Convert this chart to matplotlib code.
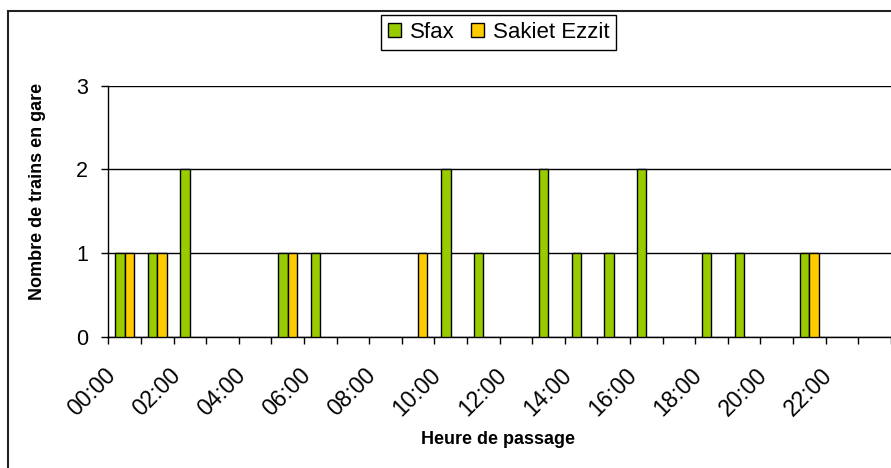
import numpy as np
import matplotlib
matplotlib.use("Agg")
import matplotlib.pyplot as plt
from matplotlib.patches import Rectangle
from matplotlib.transforms import ScaledTranslation

plt.rcParams['font.family'] = ['Liberation Sans', 'DejaVu Sans']

hours = [f"{h:02d}:00" for h in range(24)]
sfax = [1, 1, 2, 0, 0, 1, 1, 0, 0, 0, 2, 1, 0, 2, 1, 1, 2, 0, 1, 1, 0, 1, 0, 0]
sakiet = [1, 1, 0, 0, 0, 1, 0, 0, 0, 1, 0, 0, 0, 0, 0, 0, 0, 0, 0, 0, 0, 1, 0, 0]
yticks = [0, 1, 2, 3]

W, H = 891, 468
fig = plt.figure(figsize=(W / 100, H / 100), dpi=100)
ax = fig.add_axes([108.3 / W, 1 - 337 / H, (890.7 - 108.3) / W, (337 - 85.5) / H])

# chart area border
fig.patches.append(Rectangle((8 / W, -0.1), 1.2, 1.1 - 11 / H, transform=fig.transFigure,
                             fill=False, edgecolor='#222222', linewidth=1.5))

x = np.arange(len(hours))
w = 1 / 3.5
b1 = ax.bar(x - w / 2, sfax, w, color='#99CC00', edgecolor='black', linewidth=1, label='Sfax', zorder=3)
b2 = ax.bar(x + w / 2, sakiet, w, color='#FFCC00', edgecolor='black', linewidth=1, label='Sakiet Ezzit', zorder=3)
# empty slots are not drawn
for p in list(b1) + list(b2):
    if p.get_height() == 0:
        p.set_visible(False)

ax.set_xlim(-0.5, len(hours) - 0.5)
ax.set_ylim(0, 3)
ax.set_yticks(yticks)
ax.tick_params(axis='y', labelsize=15.5, length=5, width=1, pad=9.5, direction='out')
ax.yaxis.grid(True, color='black', linewidth=1, zorder=0)

# ticks at category boundaries, labels every 2 hours at category centres
ax.set_xticks(np.arange(-0.5, len(hours)))
ax.set_xticklabels([])
ax.tick_params(axis='x', which='major', length=5, width=1, direction='out')
ax.set_xticks(x[::2], minor=True)
ax.set_xticklabels(hours[::2], minor=True, rotation=45, ha='right', va='center',
                   rotation_mode='anchor', fontsize=16.5)
ax.tick_params(axis='x', which='minor', length=0, pad=0)
off = ScaledTranslation(-13 / 100, -35 / 100, fig.dpi_scale_trans)
for lab in ax.get_xticklabels(minor=True):
    lab.set_transform(lab.get_transform() + off)

for s in ['top', 'right']:
    ax.spines[s].set_visible(False)
ax.spines['left'].set_linewidth(1)
ax.spines['bottom'].set_linewidth(1)

fig.text(38 / W, 1 - 191.7 / H, 'Nombre de trains en gare', rotation=90,
         ha='center', va='center', fontsize=13, fontweight='bold')
fig.text(498 / W, 1 - 439 / H, 'Heure de passage', ha='center', va='center',
         fontsize=13, fontweight='bold')

fig.legend(loc='center', bbox_to_anchor=(498.7 / W, 1 - 32.5 / H), ncol=2,
           fontsize=16, frameon=True, fancybox=False, edgecolor='black',
           framealpha=1, handlelength=0.6, handleheight=0.6, handletextpad=0.4,
           columnspacing=0.7, borderpad=0.3, borderaxespad=0)

fig.savefig('out.png', dpi=100)
